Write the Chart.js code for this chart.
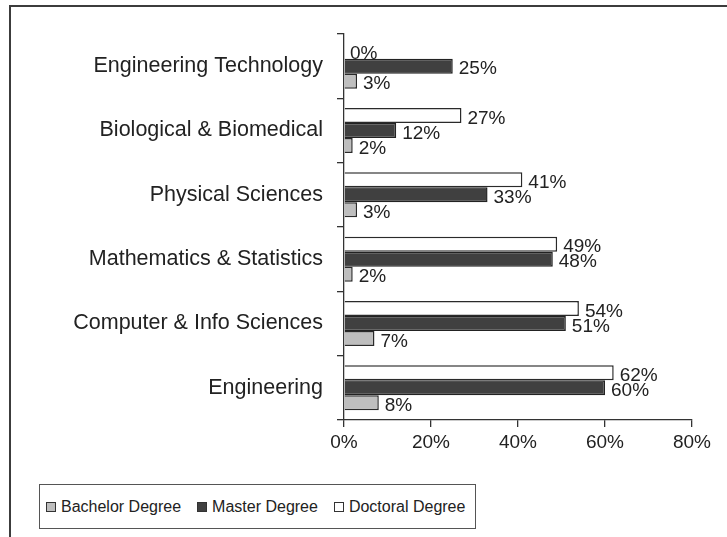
<!DOCTYPE html>
<html>
<head>
<meta charset="utf-8">
<script src="https://cdn.jsdelivr.net/npm/chart.js@4.4.1/dist/chart.umd.min.js"></script>
<style>
  html, body { margin: 0; padding: 0; background: #fff; overflow: hidden; }
  body { width: 727px; height: 537px; position: relative; }
  #frame {
    position: absolute; left: 9px; top: 5px; width: 760px; height: 560px;
    border-top: 2px solid #3c3c3c; border-left: 2px solid #3c3c3c;
  }
  #wrap { position: absolute; left: 0; top: 0; width: 727px; height: 470px; }
  #legend {
    position: absolute; left: 39px; top: 484px; width: 429px; height: 43px;
    border: 1px solid #555; display: flex; align-items: center;
    padding-left: 6px; box-sizing: content-box; white-space: nowrap;
    font-family: "Liberation Sans", Arial, sans-serif;
    font-size: 16px; color: #222;
  }
  .item { display: flex; align-items: center; margin-right: 16px; flex: none; }
  .swatch { width: 8px; height: 8px; border: 1px solid #333; margin-right: 5px; }
</style>
</head>
<body>
<div id="frame"></div>
<div id="wrap"><canvas id="chart"></canvas></div>
<div id="legend"></div>
<script>
const categories = [
  "Engineering Technology",
  "Biological & Biomedical",
  "Physical Sciences",
  "Mathematics & Statistics",
  "Computer & Info Sciences",
  "Engineering"
];
const bachelor = [3, 2, 3, 2, 7, 8];
const master = [25, 12, 33, 48, 51, 60];
const doctoral = [0, 27, 41, 49, 54, 62];
const xTicks = [0, 20, 40, 60, 80];

const textColor = "#222";
const family = "'Liberation Sans', Arial, sans-serif";

// value labels at the end of each bar
const valueLabels = {
  id: "valueLabels",
  afterDatasetsDraw(chart) {
    const ctx = chart.ctx;
    ctx.save();
    ctx.font = "19px " + family;
    ctx.fillStyle = textColor;
    ctx.textAlign = "left";
    ctx.textBaseline = "middle";
    chart.data.datasets.forEach((ds, i) => {
      chart.getDatasetMeta(i).data.forEach((bar, j) => {
        ctx.fillText(ds.data[j] + "%", bar.x + 6, bar.y + 3);
      });
    });
    ctx.restore();
  }
};

const chart = new Chart(document.getElementById("chart"), {
  type: "bar",
  data: {
    labels: categories,
    datasets: [
      { label: "Doctoral Degree", data: doctoral, backgroundColor: "#ffffff", borderColor: "#2a2a2a" },
      { label: "Master Degree", data: master, backgroundColor: "#404040", borderColor: "#222" },
      { label: "Bachelor Degree", data: bachelor, backgroundColor: "#bebebe", borderColor: "#2a2a2a" }
    ]
  },
  options: {
    indexAxis: "y",
    responsive: true,
    maintainAspectRatio: false,
    animation: false,
    layout: { padding: { left: 0, right: 35, top: 34, bottom: 0 } },
    datasets: {
      bar: { categoryPercentage: 0.7, barPercentage: 1.0, borderWidth: 1.5 }
    },
    plugins: {
      legend: { display: false },
      tooltip: { enabled: false }
    },
    scales: {
      x: {
        min: 0,
        max: 80,
        afterBuildTicks(scale) {
          scale.ticks = xTicks.map((v) => ({ value: v }));
        },
        afterFit(scale) {
          scale.height = 50;
        },
        ticks: {
          color: textColor,
          padding: 4,
          font: { family, size: 19 },
          callback(value) {
            return value + "%";
          }
        },
        grid: { drawOnChartArea: false, tickLength: 7, color: "#333", lineWidth: 1.3 },
        border: { display: true, color: "#333", width: 1.3 }
      },
      y: {
        afterFit(scale) {
          scale.width = 344;
        },
        ticks: {
          color: textColor,
          padding: 14,
          font: { family, size: 21.5 }
        },
        grid: { drawOnChartArea: false, tickLength: 7, color: "#333", lineWidth: 1.3, offset: true },
        border: { display: true, color: "#333", width: 1.3 }
      }
    }
  },
  plugins: [valueLabels]
});

// legend built from the datasets, bachelor first
const legendEl = document.getElementById("legend");
chart.data.datasets.slice().reverse().forEach((ds) => {
  const item = document.createElement("div");
  item.className = "item";
  const sw = document.createElement("span");
  sw.className = "swatch";
  sw.style.background = ds.backgroundColor;
  const label = document.createElement("span");
  label.textContent = ds.label;
  item.appendChild(sw);
  item.appendChild(label);
  legendEl.appendChild(item);
});
</script>
</body>
</html>
